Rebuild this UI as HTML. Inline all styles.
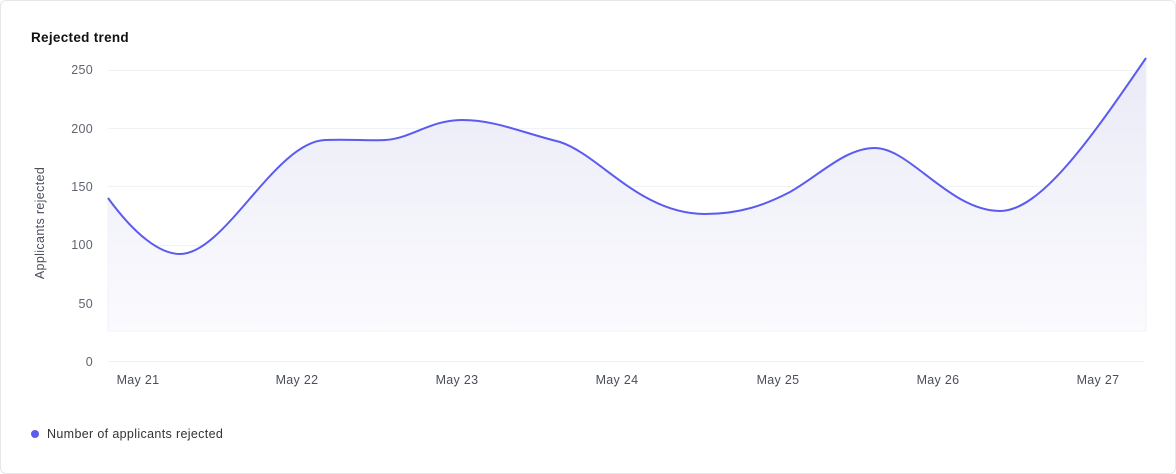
<!DOCTYPE html>
<html><head><style>
body{margin:0;background:#fff;width:1176px;height:474px;overflow:hidden;font-family:"Liberation Sans",sans-serif}
.card{position:absolute;left:0;top:0;width:1174px;height:472px;border:1px solid #e6e7eb;border-radius:6px}
</style></head><body>
<div class="card"></div>
<svg width="1176" height="474" style="position:absolute;left:0;top:0" font-family="Liberation Sans, sans-serif">
<defs><linearGradient id="g" x1="0" y1="0" x2="0" y2="1">
<stop offset="0" stop-color="#e9eaf6"/><stop offset="1" stop-color="#fbfbfe"/></linearGradient></defs>
<text x="31" y="42" font-size="13.5" font-weight="bold" fill="#111" letter-spacing="0.3">Rejected trend</text>
<g stroke="#f1f2f5" stroke-width="1">
<line x1="108" x2="1145" y1="70.5" y2="70.5"/><line x1="108" x2="1145" y1="128.5" y2="128.5"/>
<line x1="108" x2="1145" y1="186.5" y2="186.5"/><line x1="108" x2="1145" y1="245.5" y2="245.5"/>
<line x1="108" x2="1145" y1="303.5" y2="303.5"/><line x1="108" x2="1145" y1="361.5" y2="361.5"/>
</g>
<g font-size="12.5" fill="#5f6470" text-anchor="end" letter-spacing="0.3">
<text x="93" y="74">250</text><text x="93" y="133">200</text><text x="93" y="191">150</text>
<text x="93" y="249">100</text><text x="93" y="308">50</text><text x="93" y="366">0</text>
</g>
<text transform="translate(44,223) rotate(-90)" font-size="12.5" fill="#4a4f5a" text-anchor="middle" letter-spacing="0.35">Applicants rejected</text>
<path d="M108,198 C135,235 160,254 180,254 C225,254 275,142 325,140 C350,139 370,141 385,140 C410,139 430,120 462,120 C495,120 520,132 560,142 C600,155 640,214 705,214 C740,214 765,205 790,192 C820,175 845,148 875,148 C910,148 950,211 1000,211 C1040,211 1090,140 1146,58 L1146,331 L108,331 Z" fill="url(#g)" stroke="#f0f0fc" stroke-width="1"/>
<path d="M108,198 C135,235 160,254 180,254 C225,254 275,142 325,140 C350,139 370,141 385,140 C410,139 430,120 462,120 C495,120 520,132 560,142 C600,155 640,214 705,214 C740,214 765,205 790,192 C820,175 845,148 875,148 C910,148 950,211 1000,211 C1040,211 1090,140 1146,58" fill="none" stroke="#5b5bf0" stroke-width="2"/>
<g font-size="12.5" fill="#4a4f5a" text-anchor="middle" letter-spacing="0.3">
<text x="138" y="384">May 21</text><text x="297" y="384">May 22</text><text x="457" y="384">May 23</text>
<text x="617" y="384">May 24</text><text x="778" y="384">May 25</text><text x="938" y="384">May 26</text><text x="1098" y="384">May 27</text>
</g>
<circle cx="35" cy="434" r="4" fill="#5b5bf0"/>
<text x="47" y="438" font-size="12.5" fill="#333" letter-spacing="0.35">Number of applicants rejected</text>
</svg>
</body></html>
